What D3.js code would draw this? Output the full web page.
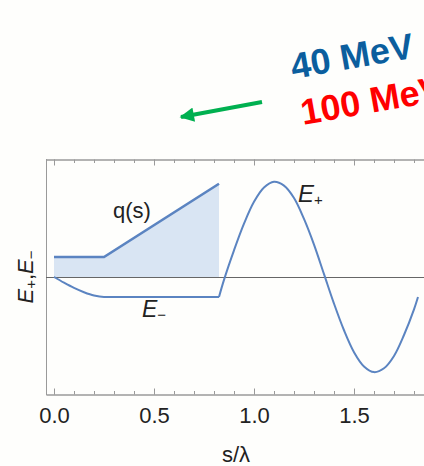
<!DOCTYPE html>
<html>
<head>
<meta charset="utf-8">
<script src="https://cdn.jsdelivr.net/npm/d3@7"></script>
<style>
  body { margin: 0; background: #fefefc; }
  svg { display: block; font-family: "Liberation Sans", Arial, sans-serif; }
</style>
</head>
<body>
<div id="chart"></div>
<script>
// values (s in units of lambda)
const qS = [0, 0.25, 0.825]
const qV = [0.21, 0.21, 0.98]

const eMinusS = [0, 0.05, 0.10, 0.15, 0.20, 0.25, 0.825]
const eMinusV = [0, -0.06, -0.115, -0.16, -0.195, -0.21, -0.21]

const ePlusS = [0.825, 0.85, 0.9, 0.95, 1.0, 1.05, 1.1, 1.15, 1.2, 1.25, 1.3, 1.35,
  1.4, 1.45, 1.5, 1.55, 1.6, 1.65, 1.7, 1.75, 1.8, 1.82]
const ePlusV = [-0.21, -0.03, 0.28, 0.56, 0.79, 0.94, 1.0, 0.96, 0.83, 0.61, 0.34, 0.03,
  -0.28, -0.56, -0.79, -0.94, -1.0, -0.96, -0.83, -0.61, -0.34, -0.21]

const majorTicks = [0, 0.5, 1.0, 1.5]
const minorTicks = d3.range(0, 19).map(i => i / 10)

const W = 424, H = 466
const margin = { top: 159, right: 0, bottom: 72, left: 46 }

const svg = d3.select("#chart").append("svg")
  .attr("width", W)
  .attr("height", H)

const x = d3.scaleLinear().domain([-0.04, 1.85]).range([margin.left, W - margin.right])
const y = d3.scaleLinear().domain([-1.23, 1.24]).range([H - margin.bottom, margin.top])

const blue = "#5b84c1"

// annotations at the top (the red one runs off the right edge, as in the source)
svg.append("text")
  .attr("transform", "translate(293,79) rotate(-10)")
  .attr("font-size", 36).attr("font-weight", "bold")
  .attr("fill", "#0b5e9e")
  .text("40 MeV")
svg.append("text")
  .attr("transform", "translate(303,125) rotate(-10)")
  .attr("font-size", 36).attr("font-weight", "bold")
  .attr("fill", "#ff0000")
  .text("100 MeV")

svg.append("defs").append("marker")
  .attr("id", "head")
  .attr("viewBox", "0 0 10 10")
  .attr("refX", 9).attr("refY", 5)
  .attr("markerWidth", 4).attr("markerHeight", 3.6)
  .attr("markerUnits", "strokeWidth")
  .attr("orient", "auto")
  .append("path").attr("d", "M0,0L10,5L0,10Z").attr("fill", "#00b050")

svg.append("line")
  .attr("x1", 262).attr("y1", 102).attr("x2", 181).attr("y2", 117)
  .attr("stroke", "#00b050").attr("stroke-width", 4)
  .attr("marker-end", "url(#head)")

// shaded q(s)
const q = qS.map((s, i) => ({ s, v: qV[i] }))
svg.append("path")
  .datum(q)
  .attr("fill", "#d9e5f3")
  .attr("d", d3.area().x(d => x(d.s)).y0(y(0)).y1(d => y(d.v)))

// frame
svg.append("line")
  .attr("x1", x.range()[0] + 0.5).attr("x2", x.range()[0] + 0.5)
  .attr("y1", y.range()[1]).attr("y2", y.range()[0])
  .attr("stroke", "#9a9a9a")

const drawAxis = (axisFn, yPos, size, values, labels) => {
  const g = svg.append("g")
    .attr("transform", `translate(0,${yPos})`)
    .call(axisFn(x).tickValues(values).tickSize(size).tickPadding(13)
      .tickFormat(labels ? d3.format(".1f") : ""))
  g.select(".domain").attr("stroke", "#9a9a9a")
  g.selectAll(".tick line").attr("stroke", "#9a9a9a")
  g.selectAll("text").attr("font-size", 22).attr("fill", "#222")
    .attr("font-family", "Liberation Sans, Arial, sans-serif")
  return g
}
drawAxis(d3.axisBottom, y.range()[0] + 0.5, -3.5, minorTicks, false)
drawAxis(d3.axisBottom, y.range()[0] + 0.5, -6, majorTicks, true)
drawAxis(d3.axisTop, y.range()[1] + 0.5, -3.5, minorTicks, false)
drawAxis(d3.axisTop, y.range()[1] + 0.5, -6, majorTicks, false)

// zero line
svg.append("line")
  .attr("x1", x.range()[0]).attr("x2", W)
  .attr("y1", Math.round(y(0)) + 0.5).attr("y2", Math.round(y(0)) + 0.5)
  .attr("stroke", "#666").attr("stroke-width", 1)

// curves
svg.append("path")
  .datum(q)
  .attr("fill", "none").attr("stroke", blue).attr("stroke-width", 2.6)
  .attr("d", d3.line().x(d => x(d.s)).y(d => y(d.v)))

svg.append("path")
  .datum(eMinusS.map((s, i) => ({ s, v: eMinusV[i] })))
  .attr("fill", "none").attr("stroke", blue).attr("stroke-width", 2)
  .attr("d", d3.line().curve(d3.curveMonotoneX).x(d => x(d.s)).y(d => y(d.v)))

svg.append("path")
  .datum(ePlusS.map((s, i) => ({ s, v: ePlusV[i] })))
  .attr("fill", "none").attr("stroke", blue).attr("stroke-width", 2)
  .attr("d", d3.line().curve(d3.curveCatmullRom).x(d => x(d.s)).y(d => y(d.v)))

// labels
const label = (xp, yp, parts, rot, size) => {
  const t = svg.append("text")
    .attr("transform", `translate(${xp},${yp})` + (rot ? ` rotate(${rot})` : ""))
    .attr("font-size", size || 22).attr("fill", "#222")
  parts.forEach(([txt, kind]) => {
    const sp = t.append("tspan").text(txt)
    if (kind === "i") sp.attr("font-style", "italic")
    if (kind === "sub") sp.attr("font-size", 15).attr("dy", 3)
    if (kind === "up") sp.attr("dy", -3)
  })
  return t
}

label(x(0.295), y(0.62), [["q(s)"]])
label(x(1.22), y(0.79), [["E", "i"], ["+", "sub"]], 0, 24)
label(x(0.44), y(-0.42), [["E", "i"], ["\u2212", "sub"]], 0, 23)

const yl = label(33, 0, [["E", "i"], ["+", "sub"], [",", "up"], ["E", "i"], ["\u2212", "sub"]], -90)
yl.attr("text-anchor", "middle").attr("transform", `translate(33,${y(0)}) rotate(-90)`)

svg.append("text")
  .attr("x", 236).attr("y", 462)
  .attr("text-anchor", "middle")
  .attr("font-size", 22).attr("fill", "#222")
  .text("s/\u03bb")
</script>
</body>
</html>
